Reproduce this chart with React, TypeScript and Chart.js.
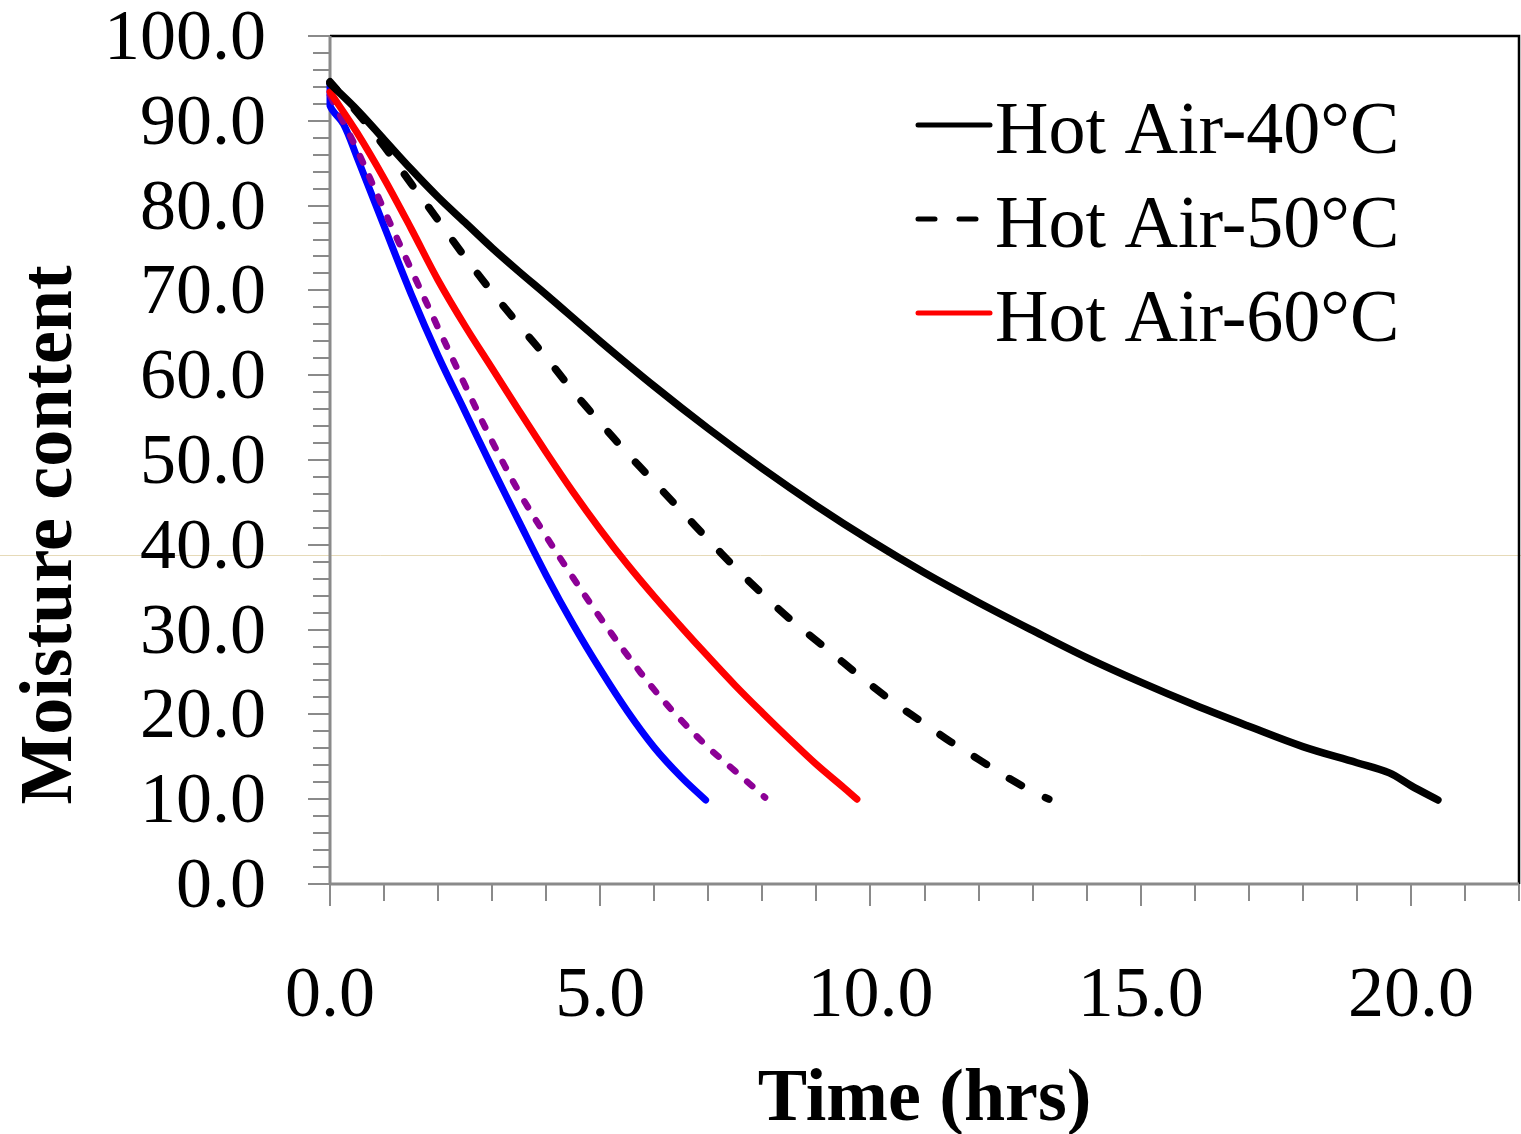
import React, { useEffect, useRef } from "react";
import { Chart, registerables } from "chart.js";

Chart.register(...registerables);

// ---- data ----
const xTickValues = [0, 5, 10, 15, 20];
const yTickValues = [0, 10, 20, 30, 40, 50, 60, 70, 80, 90, 100];
const xMax = 22;
const yMax = 100;

const xTitle = "Time (hrs)";
const yTitle = "Moisture content";
const legendLabels = ["Hot Air-40°C", "Hot Air-50°C", "Hot Air-60°C"];

const hotAir40Time = [0, 0.5, 1, 1.5, 2, 2.5, 3, 3.5, 4, 5, 6, 7, 8, 9, 10, 11, 12, 13, 14, 15, 16, 17, 18, 19, 19.6, 20, 20.5];
const hotAir40Moisture = [94.4, 91.3, 87.8, 84.3, 81.0, 78.0, 75.0, 72.2, 69.5, 64.0, 58.7, 53.7, 49.0, 44.6, 40.5, 36.7, 33.2, 29.9, 26.7, 23.8, 21.1, 18.6, 16.2, 14.3, 13.1, 11.6, 9.9];

const hotAir50Time = [0, 0.5, 1, 1.5, 2, 2.5, 3, 3.5, 4, 4.5, 5, 5.5, 6, 6.5, 7, 7.5, 8, 8.5, 9, 9.5, 10, 10.5, 11, 11.5, 12, 12.5, 13, 13.3];
const hotAir50Moisture = [94.6, 91.0, 87.0, 82.6, 78.3, 73.9, 69.8, 65.9, 62.1, 58.1, 54.4, 50.8, 47.4, 44.0, 40.6, 37.3, 34.2, 31.3, 28.7, 26.1, 23.5, 21.1, 18.9, 16.7, 14.7, 12.7, 10.9, 10.0];

const hotAir60Time = [0, 0.5, 1, 1.5, 2, 2.5, 3, 3.5, 4, 4.5, 5, 5.5, 6, 6.5, 7, 7.5, 8, 8.5, 9, 9.5, 9.75];
const hotAir60Moisture = [93.4, 88.6, 83.2, 77.3, 71.2, 65.8, 60.8, 55.8, 50.9, 46.2, 41.8, 37.7, 33.9, 30.3, 26.8, 23.4, 20.2, 17.1, 14.1, 11.4, 10.0];

const purpleTime = [0, 0.5, 1, 1.5, 2, 2.5, 3, 3.5, 4, 4.5, 5, 5.5, 6, 6.5, 7, 7.5, 8.05];
const purpleMoisture = [93.0, 86.6, 79.5, 72.5, 65.6, 58.8, 52.2, 46.2, 41.0, 36.1, 31.4, 27.0, 22.9, 19.3, 16.1, 13.3, 10.2];

const blueTime = [0, 0, 0.25, 0.5, 1, 1.5, 2, 2.5, 3, 3.5, 4, 4.5, 5, 5.5, 6, 6.5, 6.95];
const blueMoisture = [94.3, 91.8, 89.6, 85.7, 77.6, 69.6, 62.3, 55.7, 49.1, 42.7, 36.4, 30.6, 25.3, 20.4, 16.1, 12.6, 9.9];

const artifactLineValue = 38.85;

const FONT = "'Liberation Serif', 'Times New Roman', serif";

const toPoints = (xs: number[], ys: number[]) => xs.map((x, i) => ({ x, y: ys[i] }));

const framePlugin = {
  id: "frame",
  beforeDraw(chart: any) {
    const { ctx, scales } = chart;
    const y = scales.y;
    ctx.save();
    ctx.fillStyle = "#ffffff";
    ctx.fillRect(0, 0, chart.width, chart.height);
    const ay = Math.round(y.getPixelForValue(artifactLineValue)) + 0.5;
    ctx.strokeStyle = "rgba(222,205,160,0.75)";
    ctx.lineWidth = 1;
    ctx.beginPath();
    ctx.moveTo(0, ay);
    ctx.lineTo(chart.width, ay);
    ctx.stroke();
    ctx.restore();
  },
  beforeDatasetsDraw(chart: any) {
    const { ctx, chartArea: ca, scales } = chart;
    const x = scales.x;
    const y = scales.y;
    ctx.save();
    ctx.strokeStyle = "#000000";
    ctx.lineWidth = 2.5;
    ctx.beginPath();
    ctx.moveTo(ca.left, ca.top);
    ctx.lineTo(ca.right, ca.top);
    ctx.lineTo(ca.right, ca.bottom);
    ctx.stroke();
    ctx.strokeStyle = "#8a8a8a";
    ctx.lineWidth = 2;
    ctx.beginPath();
    for (let v = 0; v <= yMax; v += 2) {
      const py = Math.round(y.getPixelForValue(v));
      const len = v % 10 === 0 ? 22 : 17;
      ctx.moveTo(ca.left - len, py);
      ctx.lineTo(ca.left, py);
    }
    for (let v = 0; v <= xMax; v += 1) {
      const px = Math.round(x.getPixelForValue(v));
      const len = v % 5 === 0 ? 22 : 17;
      ctx.moveTo(px, ca.bottom);
      ctx.lineTo(px, ca.bottom + len);
    }
    ctx.stroke();
    ctx.lineWidth = 3;
    ctx.beginPath();
    ctx.moveTo(ca.left, ca.top);
    ctx.lineTo(ca.left, ca.bottom);
    ctx.moveTo(ca.left, ca.bottom);
    ctx.lineTo(ca.right, ca.bottom);
    ctx.stroke();
    ctx.restore();
  },
  afterDraw(chart: any) {
    const { ctx, chartArea: ca } = chart;
    ctx.save();
    // y-axis title
    ctx.save();
    ctx.translate(71, (ca.top + ca.bottom) / 2 + 75);
    ctx.rotate(-Math.PI / 2);
    ctx.font = `bold 74px ${FONT}`;
    ctx.fillStyle = "#000000";
    ctx.textAlign = "center";
    ctx.textBaseline = "alphabetic";
    ctx.fillText(yTitle, 0, 0);
    ctx.restore();
    // legend
    ctx.font = `74px ${FONT}`;
    ctx.fillStyle = "#000000";
    ctx.textAlign = "left";
    ctx.textBaseline = "alphabetic";
    const rowGap = 94;
    const lineX0 = ca.right - 601;
    const lineX1 = ca.right - 529;
    const textX = ca.right - 524;
    for (let i = 0; i < legendLabels.length; i++) {
      const ds = chart.data.datasets[i];
      const baseY = ca.top + 117 + i * rowGap;
      const ly = baseY - 28;
      ctx.save();
      ctx.strokeStyle = ds.borderColor;
      ctx.lineWidth = 5;
      ctx.lineCap = "round";
      ctx.setLineDash(ds.borderDash && ds.borderDash.length ? [17, 24] : []);
      ctx.beginPath();
      ctx.moveTo(lineX0, ly);
      ctx.lineTo(lineX1, ly);
      ctx.stroke();
      ctx.restore();
      ctx.fillText(legendLabels[i], textX, baseY);
    }
    ctx.restore();
  },
};

export default function App() {
  const canvasRef = useRef<HTMLCanvasElement | null>(null);

  useEffect(() => {
    const canvas = canvasRef.current;
    if (!canvas) return;
    const common = {
      pointRadius: 0,
      pointHoverRadius: 0,
      fill: false,
      tension: 0.35,
      borderCapStyle: "round" as const,
      borderJoinStyle: "round" as const,
      clip: false as any,
    };
    const chart = new Chart(canvas, {
      type: "line",
      data: {
        datasets: [
          { ...common, label: legendLabels[0], data: toPoints(hotAir40Time, hotAir40Moisture), borderColor: "#000000", borderWidth: 7.5, borderDash: [] },
          { ...common, label: legendLabels[1], data: toPoints(hotAir50Time, hotAir50Moisture), borderColor: "#000000", borderWidth: 7.5, borderDash: [14, 27], borderDashOffset: 4 },
          { ...common, label: legendLabels[2], data: toPoints(hotAir60Time, hotAir60Moisture), borderColor: "#ff0000", borderWidth: 7, borderDash: [] },
          { ...common, label: "", data: toPoints(purpleTime, purpleMoisture), borderColor: "#8c0096", borderWidth: 6.5, borderDash: [7, 15.5] },
          { ...common, label: "", data: toPoints(blueTime, blueMoisture), borderColor: "#0000ff", borderWidth: 7, borderDash: [] },
        ],
      },
      options: {
        responsive: false,
        animation: false,
        devicePixelRatio: 1,
        layout: { padding: { top: 36, right: 2, left: 0, bottom: 0 } },
        plugins: { legend: { display: false }, tooltip: { enabled: false } },
        scales: {
          x: {
            type: "linear",
            min: 0,
            max: xMax,
            afterBuildTicks: (s: any) => {
              s.ticks = xTickValues.map((v) => ({ value: v }));
            },
            afterFit: (s: any) => {
              s.height = 250;
              s.paddingLeft = 0;
              s.paddingRight = 0;
            },
            grid: { display: false, drawTicks: false },
            border: { display: false },
            ticks: {
              padding: 70,
              autoSkip: false,
              maxRotation: 0,
              color: "#000000",
              font: { family: FONT, size: 72 },
              callback: (v: any) => Number(v).toFixed(1),
            },
            title: {
              display: true,
              text: xTitle,
              color: "#000000",
              padding: 0,
              font: { family: FONT, size: 74, weight: "bold", lineHeight: 0.9 },
            },
          },
          y: {
            type: "linear",
            min: 0,
            max: yMax,
            afterBuildTicks: (s: any) => {
              s.ticks = yTickValues.map((v) => ({ value: v }));
            },
            afterFit: (s: any) => {
              s.width = 330;
              s.paddingTop = 0;
              s.paddingBottom = 0;
            },
            grid: { display: false, drawTicks: false },
            border: { display: false },
            ticks: {
              padding: 64,
              labelOffset: 4,
              autoSkip: false,
              color: "#000000",
              font: { family: FONT, size: 72 },
              callback: (v: any) => Number(v).toFixed(1),
            },
            title: { display: false },
          },
        },
      },
      plugins: [framePlugin],
    } as any);
    return () => chart.destroy();
  }, []);

  return (
    <div style={{ position: "fixed", left: 0, top: 0, width: 1521, height: 1134, background: "#ffffff" }}>
      <canvas ref={canvasRef} width={1521} height={1134} style={{ display: "block", width: 1521, height: 1134 }} />
    </div>
  );
}
